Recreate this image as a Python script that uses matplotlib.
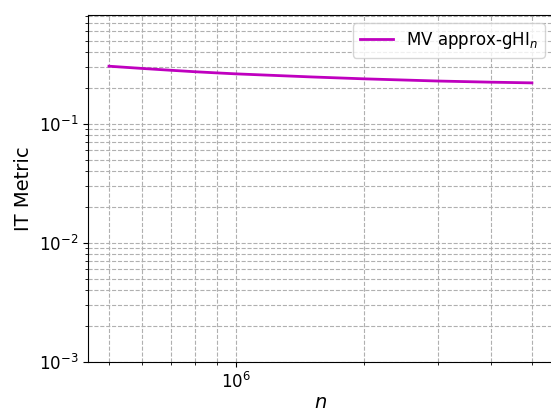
import matplotlib
matplotlib.use("Agg")
import matplotlib.pyplot as plt

n_vals = [5e5, 6e5, 7e5, 8e5, 9e5, 1e6, 1.5e6, 2e6, 3e6, 4e6, 5e6]
it_metric = [0.305, 0.292, 0.282, 0.274, 0.268, 0.263, 0.248, 0.239, 0.229, 0.224, 0.221]

fig = plt.figure(figsize=(5.51, 4.12), dpi=100)
ax = fig.add_axes([0.1597, 0.1214, 0.844, 0.842])

ax.loglog(n_vals, it_metric, color='m', linewidth=2, label=r'MV approx-gHI$_n$')
ax.set_xlim(4.46e5, 5.61e6)
ax.set_ylim(1e-3, 0.82)
ax.grid(True, which='both', linestyle='--', color='#b0b0b0', linewidth=0.8)
ax.set_xlabel(r'$n$', fontsize=14, labelpad=1)
ax.set_ylabel('IT Metric', fontsize=14)
ax.tick_params(labelsize=12)
ax.legend(loc='upper right', fontsize=12)

fig.savefig('out.png', dpi=100)
